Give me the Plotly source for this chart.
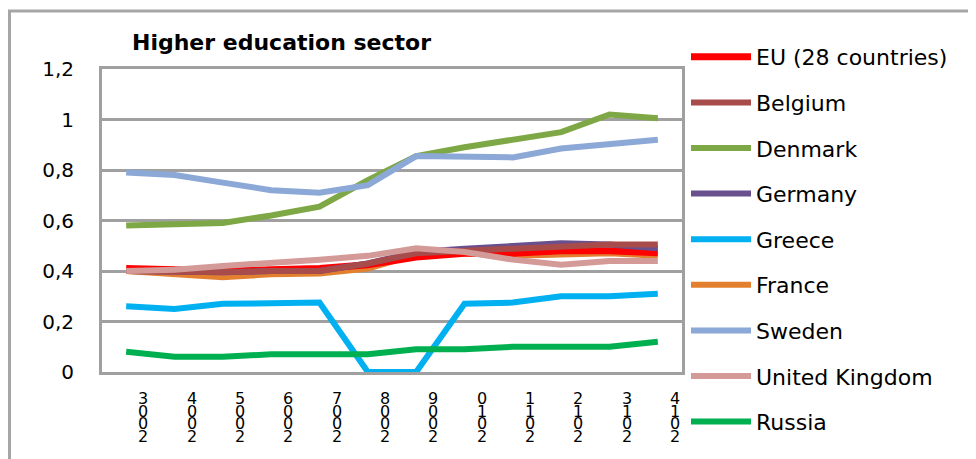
import plotly.graph_objects as go

years = ["2003", "2004", "2005", "2006", "2007", "2008", "2009", "2010", "2011", "2012", "2013", "2014"]

eu28 =    [0.41, 0.405, 0.40, 0.405, 0.41, 0.425, 0.455, 0.47, 0.47, 0.48, 0.48, 0.472]
belgium = [0.40, 0.395, 0.395, 0.40, 0.40, 0.43, 0.47, 0.48, 0.49, 0.50, 0.505, 0.505]
denmark = [0.58, 0.585, 0.59, 0.62, 0.655, 0.76, 0.855, 0.89, 0.92, 0.95, 1.02, 1.005]
germany = [0.40, 0.396, 0.395, 0.40, 0.40, 0.43, 0.475, 0.488, 0.50, 0.51, 0.505, 0.49]
greece =  [0.26, 0.25, 0.27, 0.27, 0.275, 0.0, 0.0, 0.27, 0.275, 0.30, 0.30, 0.31]
france =  [0.40, 0.387, 0.375, 0.387, 0.39, 0.41, 0.465, 0.47, 0.46, 0.465, 0.47, 0.46]
sweden =  [0.79, 0.78, 0.75, 0.72, 0.71, 0.74, 0.855, 0.85, 0.85, 0.885, 0.90, 0.92]
uk =      [0.40, 0.405, 0.42, 0.43, 0.445, 0.46, 0.49, 0.475, 0.445, 0.425, 0.44, 0.44]
russia =  [0.08, 0.06, 0.06, 0.07, 0.07, 0.07, 0.09, 0.09, 0.10, 0.10, 0.10, 0.12]

y_ticks = [0, 0.2, 0.4, 0.6, 0.8, 1.0, 1.2]
y_tick_labels = ["0", "0,2", "0,4", "0,6", "0,8", "1", "1,2"]

series = [
    ("EU (28 countries)", eu28, "#FF0000", 7),
    ("Belgium", belgium, "#A84B4B", 6),
    ("Denmark", denmark, "#7EA845", 6),
    ("Germany", germany, "#68508F", 6),
    ("Greece", greece, "#00B0F0", 6),
    ("France", france, "#E3802F", 6),
    ("Sweden", sweden, "#8CA8D6", 6),
    ("United Kingdom", uk, "#D49A98", 6),
    ("Russia", russia, "#00B050", 6),
]

# draw order so that the lower-group lines overlap like the reference
draw_order = [4, 8, 2, 6, 5, 0, 3, 1, 7]

# the page body has an 8px margin, so the figure is drawn 8px right/down
OFF = 8
W, H = 976 - OFF, 459 - OFF
PLOT_LEFT, PLOT_RIGHT, PLOT_TOP, PLOT_BOTTOM = 102, 682, 69, 372   # screen pixels
ML = PLOT_LEFT - OFF
MR = W - (PLOT_RIGHT - OFF)
MT, MB = 5, 5
GH = H - MT - MB


def py(p):  # screen pixel row -> paper y
    return (H - MB - (p - OFF)) / GH


def px(p):  # screen pixel column -> paper x
    return (p - PLOT_LEFT) / (PLOT_RIGHT - PLOT_LEFT)


fig = go.Figure()
for idx in draw_order:
    name, vals, color, w = series[idx]
    fig.add_trace(go.Scatter(
        x=years, y=vals, name=name, mode="lines",
        line=dict(color=color, width=w),
        legendgroup=name, legendrank=idx + 1,
    ))

annotations = [dict(
    text="<b>Higher education sector</b>",
    xref="paper", yref="paper", x=px(130), y=py(42),
    xanchor="left", yanchor="middle", showarrow=False,
    font=dict(family="DejaVu Sans", size=22, color="black"),
)]

# x tick labels: year digits stacked vertically (last digit on top), overlapping
# (category axis: annotation x is the category's serial number)
for i, yr in enumerate(years):
    for k, ch in enumerate(yr[::-1]):
        annotations.append(dict(
            text=ch, xref="x", yref="paper", x=i, y=py(PLOT_BOTTOM),
            xanchor="center", yanchor="top", showarrow=False,
            xshift=17, yshift=-(15 + 12.5 * k),
            font=dict(family="DejaVu Sans", size=16, color="black"),
        ))

fig.update_layout(
    width=W, height=H,
    margin=dict(l=ML, r=MR, t=MT, b=MB, autoexpand=False),
    paper_bgcolor="white", plot_bgcolor="white",
    font=dict(family="DejaVu Sans", color="black"),
    showlegend=True,
    legend=dict(
        x=px(686), y=py(36), xanchor="left", yanchor="top",
        font=dict(family="DejaVu Sans", size=22, color="black"),
        traceorder="grouped", tracegroupgap=14,
        itemwidth=60, bgcolor="rgba(0,0,0,0)",
    ),
    annotations=annotations,
    shapes=[dict(
        type="rect", xref="paper", yref="paper",
        x0=px(9.5), x1=px(1000), y0=py(480), y1=py(11),
        line=dict(color="#A6A6A6", width=3), fillcolor="rgba(0,0,0,0)", layer="below",
    )],
)

fig.update_xaxes(
    type="category", range=[-0.5, 11.5],
    tickmode="array", tickvals=years, showticklabels=False,
    ticks="", showgrid=False,
    showline=True, linecolor="#A0A0A0", linewidth=3, mirror=True,
)
fig.update_yaxes(
    domain=[py(PLOT_BOTTOM), py(PLOT_TOP)],
    range=[0, 1.2], tickmode="array", tickvals=y_ticks, ticktext=y_tick_labels,
    showgrid=True, gridcolor="#A0A0A0", gridwidth=3,
    showline=True, linecolor="#A0A0A0", linewidth=3, mirror=True,
    zeroline=False, ticks="",
    tickfont=dict(family="DejaVu Sans", size=20, color="black"),
    ticklabelstandoff=21,
)

fig.write_html("out.html")
